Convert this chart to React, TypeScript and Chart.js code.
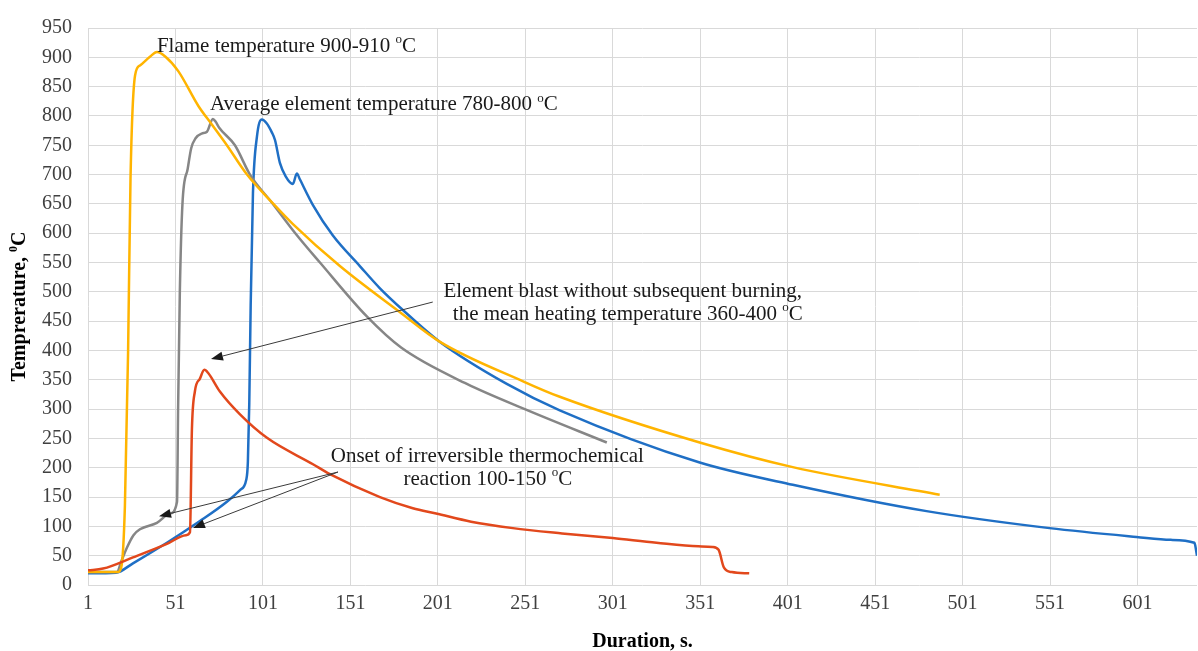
import React, { useEffect, useRef } from 'react';
import { Chart, registerables } from 'chart.js';

Chart.register(...registerables);

// ---- data ----
const xTicks = [1, 51, 101, 151, 201, 251, 301, 351, 401, 451, 501, 551, 601];

const flameX = [1, 18, 20, 22.1, 23.9, 25.3, 27.9, 30.7, 36.4, 40.4, 45.3, 52.7, 64.1, 71.9, 80.4, 91.9, 107, 118, 145, 179, 202, 250, 270.7, 350.7, 403.9, 487.9];
const flameY = [22, 22, 30, 135, 395, 693, 869, 886, 901, 909, 901, 876, 817, 785, 750, 700, 650, 616, 544, 466, 415, 347, 321, 243, 201, 154];

const avgX = [1, 17.6, 20, 23.3, 27, 30.7, 40.4, 47.9, 51.9, 52.5, 53.5, 55, 58, 60, 62.5, 66, 69, 72.4, 74, 76, 85, 93.6, 106.7, 119.5, 133.6, 160.4, 180, 217.6, 250.7, 297.6];
const avgY = [22, 22, 40, 64, 85, 95, 106, 122, 142, 300, 500, 650, 710, 745, 762, 770, 773, 795, 790, 780, 750, 700, 650, 600, 550, 458, 405, 343, 300, 243];

const elemX = [1, 17, 26.7, 46.1, 65, 80.4, 87.9, 91.5, 92.4, 93.2, 94, 95.3, 97.6, 100.4, 103, 106.1, 107.9, 110.7, 114, 118.1, 120.4, 122.1, 129.6, 141, 156.4, 167.9, 181, 202, 240.4, 270.7, 350.7, 403.9, 480.4, 550.7, 600.4, 620, 633.5, 635];
const elemY = [20, 21, 37, 72, 109, 142, 162, 180, 210, 310, 477, 668, 765, 794, 788, 772, 759, 720, 697, 684, 702, 692, 648, 596, 544, 506, 469, 415, 343, 298, 209, 171, 126, 97, 82, 77, 72, 50];

const blastX = [1, 9.6, 26.7, 46.1, 57, 59.3, 60.4, 62.1, 65, 67.5, 69.6, 76.4, 87.9, 103.3, 129.6, 139.3, 167.9, 186.7, 200, 220, 243.9, 272, 301, 326, 350, 358, 361.5, 364.5, 369, 379];
const blastY = [25, 28, 47, 70, 85, 90, 265, 330, 352, 367, 362, 330, 291, 251, 206, 189, 150, 131, 122, 108, 97, 88, 80, 72, 66, 65, 60, 30, 22, 20];

const noteText = [
  'Flame temperature 900-910 ',
  'Average element temperature 780-800 ',
  'Element blast without subsequent burning,',
  'the mean heating temperature 360-400 ',
  'Onset of irreversible thermochemical',
  'reaction 100-150 ',
];
const noteSup = ['o', 'o', '', 'o', '', 'o'];
const noteTail = ['C', 'C', '', 'C', '', 'C'];
const noteX = [40.4, 70.7, 306.7, 309.6, 229.3, 229.6];
const noteY = [909.8, 809.3, 491, 452.4, 209.4, 170.9];
const noteAlign = ['left', 'left', 'center', 'center', 'center', 'center'];

const arrowFromX = [198.1, 143.9, 143.9];
const arrowFromY = [482.6, 192.7, 192.7];
const arrowToX = [71.3, 41.6, 61.0];
const arrowToY = [385.4, 117.3, 97.2];

const FONT = "'Liberation Serif', 'Times New Roman', serif";

function pts(xs: number[], ys: number[]) {
  return xs.map((x, i) => ({ x, y: ys[i] }));
}

function drawRich(ctx: CanvasRenderingContext2D, main: string, sup: string, tail: string, x: number, y: number, align: string, size: number, bold: boolean) {
  const w = bold ? 'bold ' : '';
  const mainFont = `${w}${size}px ${FONT}`;
  const supSize = Math.round(size * 0.62);
  const supFont = `${w}${supSize}px ${FONT}`;
  ctx.font = mainFont;
  const w1 = ctx.measureText(main).width;
  const w3 = tail ? ctx.measureText(tail).width : 0;
  ctx.font = supFont;
  const w2 = sup ? ctx.measureText(sup).width : 0;
  const total = w1 + w2 + w3;
  let sx = x;
  if (align === 'center') sx = x - total / 2;
  ctx.textAlign = 'left';
  ctx.textBaseline = 'alphabetic';
  ctx.font = mainFont;
  ctx.fillText(main, sx, y);
  if (sup) {
    ctx.font = supFont;
    ctx.fillText(sup, sx + w1, y - size * 0.4);
  }
  if (tail) {
    ctx.font = mainFont;
    ctx.fillText(tail, sx + w1 + w2, y);
  }
}

const overlayPlugin = {
  id: 'overlay',
  afterDraw(chart: any) {
    const ctx: CanvasRenderingContext2D = chart.ctx;
    const xs = chart.scales.x;
    const ys = chart.scales.y;
    const area = chart.chartArea;
    ctx.save();
    // arrows
    ctx.strokeStyle = '#3a3a3a';
    ctx.fillStyle = '#1a1a1a';
    ctx.lineWidth = 1;
    for (let i = 0; i < arrowFromX.length; i++) {
      const x1 = xs.getPixelForValue(arrowFromX[i]);
      const y1 = ys.getPixelForValue(arrowFromY[i]);
      const x2 = xs.getPixelForValue(arrowToX[i]);
      const y2 = ys.getPixelForValue(arrowToY[i]);
      const ang = Math.atan2(y2 - y1, x2 - x1);
      const L = 12, W = 4.5;
      const bx = x2 - L * Math.cos(ang);
      const by = y2 - L * Math.sin(ang);
      ctx.beginPath();
      ctx.moveTo(x1, y1);
      ctx.lineTo(bx, by);
      ctx.stroke();
      ctx.beginPath();
      ctx.moveTo(x2, y2);
      ctx.lineTo(bx + W * Math.sin(ang), by - W * Math.cos(ang));
      ctx.lineTo(bx - W * Math.sin(ang), by + W * Math.cos(ang));
      ctx.closePath();
      ctx.fill();
    }
    // notes
    ctx.fillStyle = '#1a1a1a';
    for (let i = 0; i < noteText.length; i++) {
      drawRich(ctx, noteText[i], noteSup[i], noteTail[i], xs.getPixelForValue(noteX[i]), ys.getPixelForValue(noteY[i]), noteAlign[i], 21, false);
    }
    // y axis title
    ctx.translate(18, (area.top + area.bottom) / 2);
    ctx.rotate(-Math.PI / 2);
    ctx.fillStyle = '#000';
    drawRich(ctx, 'Temprerature, ', '0', 'C', 0, 7, 'center', 20, true);
    ctx.restore();
  },
};

export default function App() {
  const ref = useRef<HTMLCanvasElement>(null);
  useEffect(() => {
    if (!ref.current) return;
    const tickFont = { family: FONT, size: 20 };
    const chart = new Chart(ref.current, {
      type: 'line',
      data: {
        datasets: [
          { label: 'Element blast', data: pts(blastX, blastY), borderColor: '#E2481C' },
          { label: 'Flame', data: pts(flameX, flameY), borderColor: '#FFB400' },
          { label: 'Average', data: pts(avgX, avgY), borderColor: '#868686' },
          { label: 'Element', data: pts(elemX, elemY), borderColor: '#1F6FC5' },
        ].map((d) => ({
          ...d,
          borderWidth: 2.5,
          pointRadius: 0,
          fill: false,
          cubicInterpolationMode: 'monotone' as const,
        })),
      },
      options: {
        animation: false,
        responsive: true,
        maintainAspectRatio: false,
        layout: { padding: { top: 18, right: 1, bottom: 0, left: 0 } },
        plugins: { legend: { display: false }, tooltip: { enabled: false } },
        scales: {
          x: {
            type: 'linear',
            min: 1,
            max: 635,
            afterBuildTicks: (axis: any) => {
              axis.ticks = xTicks.map((v) => ({ value: v }));
            },
            afterFit: (s: any) => {
              s.height = 66;
            },
            ticks: {
              font: tickFont,
              color: '#404040',
              padding: 7,
              maxRotation: 0,
              autoSkip: false,
              callback: (v: any) => String(v),
            },
            grid: { color: '#d9d9d9', drawTicks: false, lineWidth: 1 },
            border: { display: false },
            title: {
              display: true,
              text: 'Duration, s.',
              color: '#000',
              font: { family: FONT, size: 20, weight: 'bold' },
              padding: { top: 0, bottom: -3 },
            },
          },
          y: {
            min: 0,
            max: 950,
            afterFit: (s: any) => {
              s.width = 88;
            },
            ticks: {
              stepSize: 50,
              font: tickFont,
              color: '#404040',
              padding: 16,
            },
            grid: { color: '#d9d9d9', drawTicks: false, lineWidth: 1 },
            border: { display: false },
          },
        },
      },
      plugins: [overlayPlugin],
    });
    return () => chart.destroy();
  }, []);
  return (
    <div style={{ position: 'absolute', left: 0, top: 0, width: 1198, height: 651, background: '#fff' }}>
      <canvas ref={ref} />
    </div>
  );
}
